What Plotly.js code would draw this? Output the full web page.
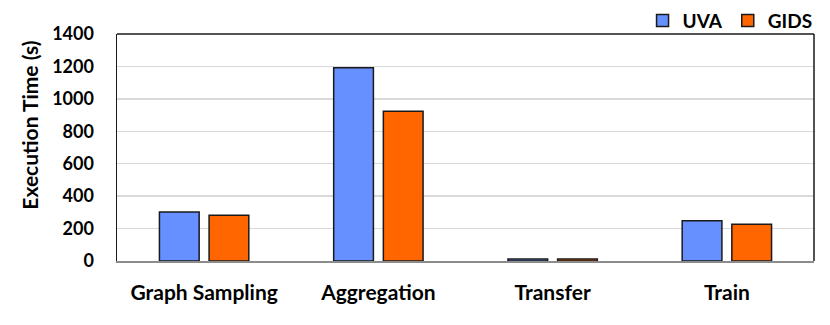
<!DOCTYPE html>
<html>
<head>
<meta charset="utf-8">
<script src="https://cdn.plot.ly/plotly-3.0.1.min.js"></script>
<style>
  html, body { margin:0; padding:0; background:#fff; }
  #chart { width:830px; height:325px; }
</style>
</head>
<body>
<div id="chart"></div>
<script>
// execution time per stage, UVA vs GIDS
const categories = ['Graph Sampling', 'Aggregation', 'Transfer', 'Train'];
const uvaTimes  = [302, 1192, 13, 249];
const gidsTimes = [282, 923, 12, 226];
const yTicks = [0, 200, 400, 600, 800, 1000, 1200, 1400];

(function(){
  const font = 'Lato, "Open Sans", sans-serif';
  const edge = {color:'#1a1a1a', width:1.5};

  const traces = [
    { type:'bar', name:'UVA', x:categories, y:uvaTimes,
      marker:{color:'#6690ff', line:edge} },
    { type:'bar', name:'GIDS', x:categories, y:gidsTimes,
      marker:{color:'#ff6600', line:edge} },
  ];

  const layout = {
    width:830, height:325,
    margin:{l:117, r:16, t:34, b:64, autoexpand:false},
    paper_bgcolor:'#fff', plot_bgcolor:'#fff',
    font:{family:font, color:'#000'},
    barmode:'group', bargap:0.43, bargroupgap:0.2,
    showlegend:true,
    legend:{ orientation:'h', xref:'container', x:0.985, xanchor:'right',
             yref:'container', y:0.995, yanchor:'top', bgcolor:'rgba(0,0,0,0)',
             font:{size:19, weight:'bold'}, itemwidth:30, tracegroupgap:0 },
    xaxis:{ showline:true, linecolor:'#8c8c8c', linewidth:1.5,
            tickfont:{size:21, weight:'bold'}, ticks:'', ticklabelstandoff:12,
            showgrid:false, zeroline:false },
    yaxis:{ range:[0,1400], tickvals:yTicks, showline:true, linecolor:'#1a1a1a', linewidth:1.5,
            gridcolor:'#d9d9d9', gridwidth:1.5, zeroline:false,
            tickfont:{size:18, weight:'bold'}, ticks:'', ticklabelstandoff:18 },
    annotations:[
      { text:'Execution Time (s)', textangle:-90, showarrow:false,
        xref:'paper', yref:'paper', x:-0.125, y:0.6, xanchor:'center', yanchor:'middle',
        font:{size:21, weight:'bold'} },
    ],
    shapes:[
      { type:'line', xref:'paper', yref:'paper', x0:0, x1:1, y0:1, y1:1, line:{color:'#1a1a1a', width:1.5} },
      { type:'line', xref:'paper', yref:'paper', x0:1, x1:1, y0:0, y1:1, line:{color:'#1a1a1a', width:1.5} },
    ],
  };

  Plotly.newPlot('chart', traces, layout, {displayModeBar:false, staticPlot:true});
})();
</script>
</body>
</html>
